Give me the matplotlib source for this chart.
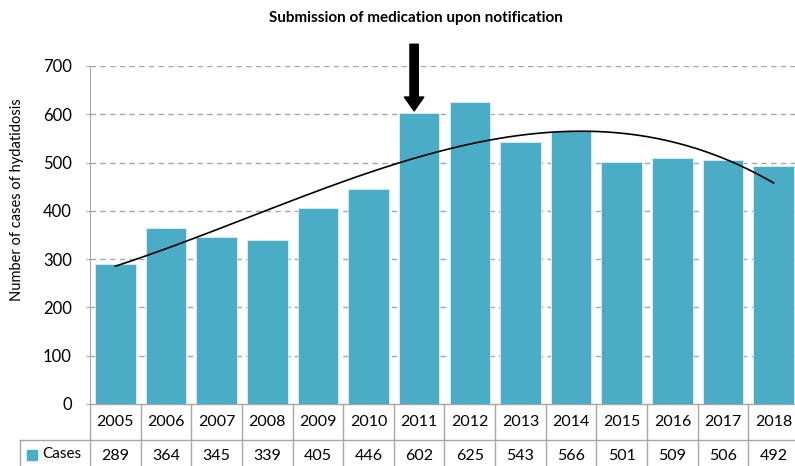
import numpy as np
import matplotlib.pyplot as plt
from matplotlib.lines import Line2D

# data
years = ['2005', '2006', '2007', '2008', '2009', '2010', '2011',
         '2012', '2013', '2014', '2015', '2016', '2017', '2018']
cases = [289, 364, 345, 339, 405, 446, 602, 625, 543, 566, 501, 509, 506, 492]
series_name = 'Cases'
title = 'Submission of medication upon notification'
y_label = 'Number of cases of hydatidosis'

bar_color = '#4BACC6'
grid_color = '#A6A6A6'

plt.rcParams['font.family'] = ['Lato', 'DejaVu Sans']

fig = plt.figure(figsize=(7.95, 4.66), dpi=100)
ax = fig.add_axes([90 / 795, 62 / 466, 709 / 795, 338 / 466])

x = np.arange(len(years))
ax.bar(x, cases, width=0.8, color=bar_color, edgecolor='#DDF0F5', linewidth=0.6, zorder=3)

# polynomial trendline (as in the spreadsheet)
coef = np.polyfit(x, cases, 3)
xs = np.linspace(x[0], x[-1], 200)
ax.plot(xs, np.polyval(coef, xs), color='black', linewidth=1.2, zorder=4)

ax.set_xlim(-0.5, len(years) - 0.5)
ax.set_ylim(0, 700)
ax.set_yticks(range(0, 701, 100))
ax.tick_params(axis='y', labelsize=12, length=3, color=grid_color, pad=10)
ax.set_xticks([])
for v in range(100, 701, 100):
    ax.axhline(v, color=grid_color, linestyle=(0, (4, 3)), linewidth=1, zorder=1)
for s in ['top', 'right', 'bottom']:
    ax.spines[s].set_visible(False)
ax.spines['left'].set_color(grid_color)

# data table under the axis
tr = ax.get_xaxis_transform()
row1 = -36 / 338
row2 = row1 - 32 / 338
lw = 1.0
for i in range(len(years) + 1):
    ax.add_line(Line2D([i - 0.5, i - 0.5], [0, row2], transform=tr, color=grid_color,
                       lw=lw, clip_on=False))
for yy in [0, row1, row2]:
    ax.add_line(Line2D([-0.5, len(years) - 0.5], [yy, yy], transform=tr, color=grid_color,
                       lw=lw, clip_on=False))
for i, (yr, c) in enumerate(zip(years, cases)):
    ax.text(i, row1 / 2, yr, transform=tr, ha='center', va='center', fontsize=11.5)
    ax.text(i, (row1 + row2) / 2, str(c), transform=tr, ha='center', va='center', fontsize=11.5)

# row label cell
lx0 = -0.5 - 70 / 50.6
ax.add_line(Line2D([lx0, lx0], [row1, row2], transform=tr, color=grid_color, lw=lw, clip_on=False))
ax.add_line(Line2D([lx0, -0.5], [row1, row1], transform=tr, color=grid_color, lw=lw, clip_on=False))
ax.add_line(Line2D([lx0, -0.5], [row2, row2], transform=tr, color=grid_color, lw=lw, clip_on=False))
ax.add_patch(plt.Rectangle((lx0 + 7 / 50.6, row1 - 20 / 338), 10 / 50.6, 10 / 338, transform=tr,
                           color=bar_color, clip_on=False))
ax.text(lx0 + 22 / 50.6, (row1 + row2) / 2 + 2 / 338, series_name, transform=tr,
        ha='left', va='center', fontsize=11)

# arrow pointing at 2011
ax.annotate('', xy=(5.9, 607), xytext=(5.9, 745), annotation_clip=False,
            arrowprops=dict(width=6, headwidth=14, headlength=10,
                            facecolor='black', edgecolor='black'))

fig.text(416 / 795, 1 - 18 / 466, title, ha='center', va='center', fontsize=11, fontweight='bold')
fig.text(17 / 795, 1 - 200 / 466, y_label, rotation=90, ha='center', va='center', fontsize=10.5)

fig.savefig('out.png', dpi=100)
